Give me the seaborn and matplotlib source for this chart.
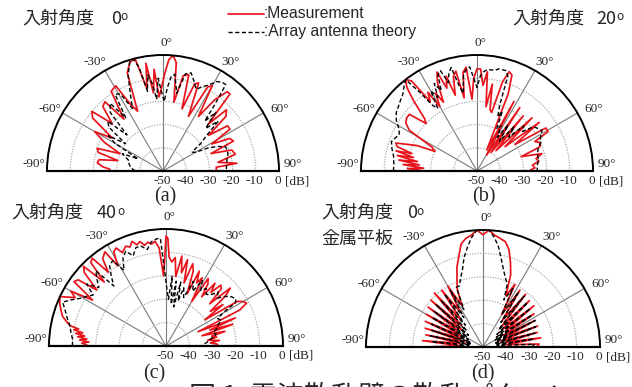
import numpy as np
import pandas as pd
import matplotlib
matplotlib.use("Agg")
import matplotlib.pyplot as plt
import matplotlib.transforms as mtransforms
from matplotlib.lines import Line2D
import seaborn as sns

# ---------------- data (angle in degrees, level in dB) ----------------
a_meas_deg = [-90, -90, -88, -86, -83, -80, -77, -74, -71, -68, -64, -60, -57, -53, -50, -47, -43, -40, -37, -33,
              -29, -26, -23, -20, -17, -14, -11, -9, -7, -5, -3, -1, 1, 3, 5, 7, 9, 12, 15, 17,
              20, 22, 25, 28, 30, 33, 36, 39, 41, 44, 46, 49, 52, 55, 58, 61, 64, 67, 70, 73,
              77, 81, 84, 86, 88, 90, 90]
a_meas_db = [-50, -27, -27, -24, -21.5, -22, -30, -21, -20, -30, -22, -16, -24, -12, -10, -20, -12, -11, -22, -9,
             -8, -18, -22, -5, -1, 0, -14, -3, -16, -6, -18, -14, -8, -2, 0, -3, -20, -8, -7, -22,
             -10, -9, -24, -9, -7.5, -22, -12, -6, -6, -22, -12, -14, -25, -16, -16, -26, -18, -17, -28, -19,
             -18, -26, -18, -27, -27, -27, -50]
a_theo_deg = [-90, -84, -78, -74, -70, -67, -64, -60, -57, -54, -51, -48, -45, -42, -38, -35, -32, -29, -26, -23,
              -20, -17, -15, -13, -11, -9, -7, -5, -3, -1, 1, 3, 5, 7, 10, 13, 16, 19, 22, 25,
              28, 31, 34, 36, 38, 40, 42, 45, 48, 51, 54, 57, 60, 63, 66, 69, 75, 80, 85, 89]
a_theo_db = [-38, -36, -35, -35, -33, -31, -38, -26, -22, -30, -20, -18, -28, -16, -13, -22, -11, -12, -20, -14,
             -6, -1, 0, -4, -15, -8, -12, -19, -10, -16, -20, -14, -9, -8, -16, -7, -6, -9, -12, -10,
             -8, -5, -4, -4, -14, -22, -16, -24, -18, -26, -30, -35, -34, -28, -24, -21, -21, -22, -22.5, -22.7]

b_meas_deg = [-90, -90, -88, -87, -85, -84, -82, -81, -79, -78,
              -76, -75, -73, -71, -69, -67, -65, -62, -59, -56,
              -53, -50, -47, -45, -42, -40, -38, -36, -34, -32,
              -30, -28, -26, -24, -22, -20, -18, -16, -14, -12,
              -10, -8, -6, -4, -2, 0, 2, 4, 6, 8,
              10, 12, 14, 16, 18, 20, 22, 25, 28, 31,
              34, 37, 40, 43, 46, 49, 52, 55, 58, 61,
              63, 66, 69, 72, 75, 78, 81, 84, 87, 89,
              90, 90]
b_meas_db = [-50, -27, -20, -27, -18, -25, -16, -24, -15, -22,
             -14, -21, -14, -13, -18, -22, -30, -28, -16, -13,
             -12, -12, -20, -18, -9, -3, 0, -2, -14, -10,
             -18, -12, -17, -8, -4, -12, -7, -16, -8, -6,
             -18, -7, -5, -19, -10, -6, -6, -13, -7, -22,
             -12, -23, -24, -10, -5, -6, -14, -40, -16, -42,
             -17, -40, -19, -38, -17, -34, -16, -30, -15, -15,
             -22, -20, -21, -30, -21, -24, -23, -26, -25, -27,
             -27, -50]
b_theo_deg = [-90, -85, -80, -75, -71, -68, -65, -62, -58, -54, -50, -47, -44, -41, -38, -36, -34, -32, -30, -28,
              -26, -24, -22, -20, -18, -16, -14, -12, -10, -8, -6, -4, -2, 0, 2, 4, 6, 8, 10, 12,
              14, 16, 18, 19, 21, 23, 25, 28, 31, 34, 37, 40, 43, 46, 49, 52, 55, 58, 62, 66,
              70, 75, 80, 85, 89]
b_theo_db = [-14, -14, -13.5, -12, -11, -12, -13, -12, -9, -7, -6, -5, -4, -2, 0, -8, -16, -18, -10, -14,
             -8, -12, -5, -4, -10, -6, -4, -12, -16, -8, -6, -5, -10, -14, -9, -7, -6, -6, -6, -5,
             -5, -5, -7, -20, -25, -22, -30, -28, -33, -26, -34, -25, -30, -22, -24, -19, -18, -17, -19, -20,
             -22, -23, -23, -24, -24]

c_meas_deg = [-90, -90, -88, -87, -86, -85, -84, -83, -82, -81, -80, -79, -78, -76, -74, -72, -70, -68, -65, -62,
              -60, -58, -55, -53, -51, -48, -46, -44, -42, -40, -38, -36, -33, -31, -29, -27, -25, -22, -20, -18,
              -16, -14, -12, -10, -8, -6, -4, -2, -1, 0, 1, 2, 4, 6, 8, 10, 12, 14, 16, 18,
              20, 22, 24, 26, 28, 30, 32, 34, 36, 38, 40, 42, 44, 46, 48, 50, 52, 54, 56, 58,
              60, 62, 64, 66, 68, 70, 72, 74, 76, 78, 80, 82, 84, 86, 88, 90, 90]
c_meas_db = [-50, -17, -14, -17, -13, -16, -12, -15, -11, -14, -10, -12, -8, -6, -4, -3, -2, -1, 0, -6,
             -3, -13, -2, -3, -12, -3, -1, -12, -2, -1, -10, -4, -2, -10, -4, -3, -6, -4, -5, -3,
             -5, -4, -6, -5, -6, -5, -8, -20, -14, -3, -4, -12, -14, -12, -20, -11, -18, -12, -22, -13,
             -16, -26, -15, -20, -17, -28, -16, -18, -24, -16, -20, -15, -16, -24, -13, -17, -26, -20, -30, -14,
             -12, -11, -15, -35, -18, -30, -20, -34, -24, -30, -28, -32, -27, -31, -28, -28, -50]
c_theo_deg = [-90, -86, -82, -78, -74, -70, -67, -64, -61, -58, -55, -52, -49, -46, -43, -41, -38, -35, -32, -29,
              -26, -23, -20, -17, -14, -11, -8, -5, -3, -1, 1, 3, 5, 7, 9, 11, 13, 15, 17, 20,
              23, 26, 29, 32, 35, 38, 41, 44, 47, 50, 53, 56, 58, 60, 62, 65, 68, 71, 74, 77,
              80, 84, 88]
c_theo_db = [-10, -10, -9, -8, -6, -4, -2, -5, -8, -10, -12, -7, -12, -9, -6, -16, -12, -8, -7, -13,
             -8, -6, -9, -6, -6, -8, -5, -4, -4, -18, -26, -30, -20, -32, -22, -33, -22, -30, -24, -28,
             -20, -24, -18, -22, -20, -22, -21, -18, -20, -17, -15, -14, -15, -22, -25, -24, -26, -27, -29, -28,
             -30, -32, -34]

d_meas_deg = [-90, -90, -87, -84, -81, -78, -75, -72, -69, -66, -63,
              -60, -57, -54, -51, -48, -45, -42, -39, -36, -33,
              -30, -27, -24, -21, -18, -15, -12, -9, -6, -3,
              0, 3, 6, 9, 12, 15, 18, 21, 24, 27,
              30, 33, 36, 39, 42, 45, 48, 51, 54, 57,
              60, 63, 66, 69, 72, 75, 78, 81, 84, 87,
              90, 90]
d_meas_db = [-50, -26, -40, -24, -40, -25, -42, -24, -40, -23, -40,
             -22, -38, -21, -39, -20, -37, -19, -35, -20, -32,
             -20, -30, -23, -19, -14, -10, -5, -3, -2, 0,
             -2, 0, -2, -3, -4, -7, -12, -17, -26, -20,
             -34, -21, -36, -21, -38, -22, -39, -22, -38, -24,
             -40, -25, -39, -25, -42, -26, -40, -25, -40, -26,
             -27, -50]
d_theo_deg = [-90, -87, -84, -81, -78, -75, -72, -69, -66, -63,
              -60, -57, -54, -51, -48, -45, -42, -39, -36, -33,
              -30, -27, -24, -21, -18, -15, -12, -9, -6, -3,
              0, 3, 6, 9, 12, 15, 18, 21, 24, 27,
              30, 33, 36, 39, 42, 45, 48, 51, 54, 57,
              60, 63, 66, 69, 72, 75, 78, 81, 84, 87,
              90]
d_theo_db = [-29, -44, -28, -44, -27, -45, -27, -44, -26, -43,
             -25, -42, -24, -42, -23, -40, -23, -38, -22, -35,
             -22, -32, -22, -22, -19, -16, -11, -7, -3, 0,
             0, 0, -3, -7, -12, -16, -19, -21, -28, -22,
             -34, -22, -37, -22, -40, -23, -42, -24, -43, -25,
             -44, -25, -44, -26, -45, -27, -44, -28, -44, -28,
             -29]

panel_labels = ["(a)", "(b)", "(c)", "(d)"]
angle_ticks = ["-90°", "-60°", "-30°", "0°", "30°", "60°", "90°"]
db_ticks = ["-50", "-40", "-30", "-20", "-10", "0"]

# ---------------- figure ----------------
sns.set_style("white")
plt.rcParams['font.family'] = ['Liberation Serif', 'DejaVu Serif']

W, H = 632, 387
fig = plt.figure(figsize=(W / 100, H / 100), dpi=100)
fig.patch.set_facecolor('white')

RED = '#e8141c'
SERIF = 'Liberation Serif'
SANS = ['Liberation Sans', 'DejaVu Sans']
CJK = ['Noto Sans CJK JP', 'DejaVu Sans']


def fx(x):
    return x / W


def fy(y):
    return 1 - y / H


panels = [
    dict(cx=163, cy=171, R=116, meas=(a_meas_deg, a_meas_db), theo=(a_theo_deg, a_theo_db), lab=(165, 196.5)),
    dict(cx=477, cy=171, R=116, meas=(b_meas_deg, b_meas_db), theo=(b_theo_deg, b_theo_db), lab=(484, 196.5)),
    dict(cx=166, cy=346, R=117, meas=(c_meas_deg, c_meas_db), theo=(c_theo_deg, c_theo_db), lab=(154, 374)),
    dict(cx=483, cy=347, R=117, meas=(d_meas_deg, d_meas_db), theo=(d_theo_deg, d_theo_db), lab=(483, 373.5)),
]

label_pos = [(-87, 55.6), (-61, 55.5), (-32, 55.6), (1.5, 55.0), (32, 55.3), (62, 57.0), (87, 56.0)]

for i, p in enumerate(panels):
    cx, cy, R = p['cx'], p['cy'], p['R']
    ax = fig.add_axes([fx(cx - R), (H - cy - 0.5 * R) / H, 2 * R / W, 2 * R / H], projection='polar')
    ax.set_theta_zero_location('N')
    ax.set_theta_direction(-1)
    ax.set_thetamin(-90)
    ax.set_thetamax(90)
    ax.set_ylim(0, 50)
    ax.set_yticks([10, 20, 30, 40])
    ax.set_yticklabels([''] * 4)
    ax.set_xticks(np.deg2rad([-60, -30, 0, 30, 60]))
    ax.set_xticklabels([''] * 5)
    ax.tick_params(length=0, pad=0)
    ax.yaxis.grid(True, color='#a8a8a8', linestyle=(0, (1.2, 1.2)), linewidth=0.8)
    ax.xaxis.grid(True, color='#7a7a7a', linestyle='-', linewidth=0.8)
    ax.spines['polar'].set_color('black')
    ax.spines['polar'].set_linewidth(1.4)
    for s in ['start', 'end']:
        ax.spines[s].set_color('black')
        ax.spines[s].set_linewidth(1.6)

    mdeg, mdb = p['meas']
    tdeg, tdb = p['theo']
    dfm = pd.DataFrame({'theta': np.deg2rad(mdeg), 'r': np.asarray(mdb, float) + 50})
    dft = pd.DataFrame({'theta': np.deg2rad(tdeg), 'r': np.asarray(tdb, float) + 50})
    sns.lineplot(data=dfm, x='theta', y='r', ax=ax, color=RED, linewidth=1.25,
                 sort=False, estimator=None, legend=False)
    sns.lineplot(data=dft, x='theta', y='r', ax=ax, color='black', linewidth=1.0,
                 linestyle=(0, (3, 1.8)), sort=False, estimator=None, legend=False)
    ax.set_xlabel('')
    ax.set_ylabel('')

    # angle labels
    for (ang, rr), txt in zip(label_pos, angle_ticks):
        ax.text(np.deg2rad(ang), rr, txt, ha='center', va='center', fontsize=9.5,
                family=SERIF, clip_on=False)
    # dB labels below baseline
    tr = mtransforms.offset_copy(ax.transData, fig=fig, x=-1, y=-10, units='dots')
    for v, txt in zip([0, 10, 20, 30, 40, 50], db_ticks):
        ax.text(np.deg2rad(90), v, txt, transform=tr, ha='center', va='center',
                fontsize=9.5, family=SERIF, clip_on=False)
    tr2 = mtransforms.offset_copy(ax.transData, fig=fig, x=18, y=-10, units='dots')
    ax.text(np.deg2rad(90), 50, '[dB]', transform=tr2, ha='center', va='center',
            fontsize=9.5, family=SERIF, clip_on=False)

    lx, ly = p['lab']
    fig.text(fx(lx), fy(ly), panel_labels[i], ha='center', va='center', fontsize=14.5, family=SERIF)

# ---------------- titles ----------------
def title(x, y, num, xnum, xo):
    fig.text(fx(x), fy(y), '入射角度', ha='left', va='center', fontsize=13, family=CJK)
    fig.text(fx(xnum), fy(y), num, ha='left', va='center', fontsize=13, family=CJK)
    fig.text(fx(xo), fy(y - 2), 'o', ha='left', va='center', fontsize=8.5, family=CJK)


title(22, 19, '0', 111, 120.5)
title(512, 19, '20', 596, 616.5)
title(11, 213, '40', 97, 117.5)
title(321, 213, '0', 407, 416.5)
fig.text(fx(321), fy(239), '金属平板', ha='left', va='center', fontsize=13, family=CJK)

# ---------------- legend ----------------
fig.add_artist(Line2D([fx(228), fx(264)], [fy(13.5), fy(13.5)], transform=fig.transFigure,
                      color=RED, linewidth=1.2))
fig.add_artist(Line2D([fx(228), fx(264)], [fy(31.5), fy(31.5)], transform=fig.transFigure,
                      color='black', linewidth=1.0, linestyle=(0, (3, 1.8))))
fig.text(fx(264), fy(13.5), ':Measurement', ha='left', va='center', fontsize=11.3, family=SANS)
fig.text(fx(264), fy(31.5), ':Array antenna theory', ha='left', va='center', fontsize=11.3, family=SANS)

# ---------------- caption (cut off at bottom, as in the reference) ----------------
fig.text(fx(189), fy(384), '図 1  電波散乱壁の散乱パターン', ha='left', va='top', fontsize=19.5, family=CJK)

fig.savefig('out.png', dpi=100, facecolor='white')
